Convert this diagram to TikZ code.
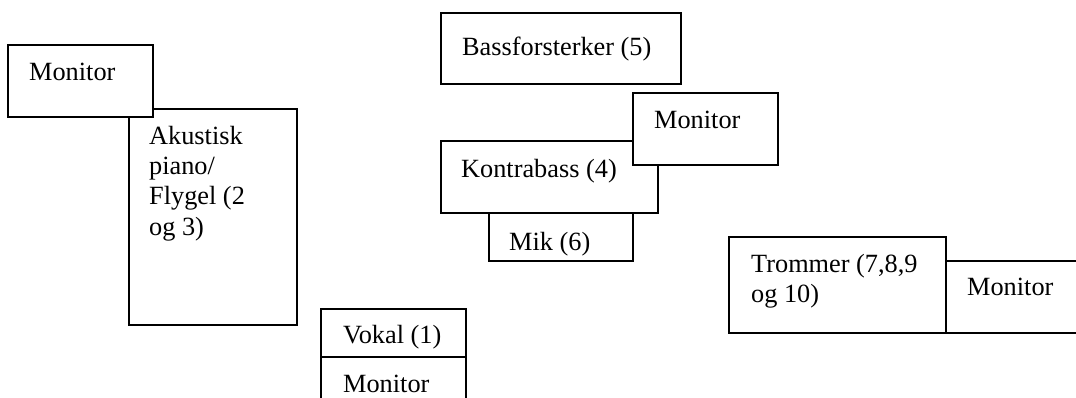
\documentclass[tikz,border=0pt]{standalone}
\usepackage{fontspec}
\setmainfont{Liberation Serif}
\usetikzlibrary{positioning}

\begin{document}
\begin{tikzpicture}[
    x=1pt, y=-1pt,
    box/.style={rectangle, draw=black, fill=white, line width=1.8pt, inner sep=0pt, outer sep=0pt, anchor=north west},
    lbl/.style={inner sep=0pt, align=left, font=\fontsize{26.3pt}{30.3pt}\selectfont}
]
\clip (0,0) rectangle (1076,397);

% piano + monitor
\node[box, minimum width=168pt, minimum height=216pt] (piano) at (129,109) {};
\node[lbl, below right=126pt and 20pt of piano.north west, anchor=base west] (pianotxt) {Akustisk\\piano/\\Flygel (2\\og 3)};
\node[box, minimum width=145pt, minimum height=72pt] (monL) at (8,45) {};
\node[lbl, below right=35pt and 21pt of monL.north west, anchor=base west] (monLtxt) {Monitor};

% bass
\node[box, minimum width=240pt, minimum height=71pt] (bass) at (441,13) {};
\node[lbl, below right=42pt and 21pt of bass.north west, anchor=base west] (basstxt) {Bassforsterker (5)};
\node[box, minimum width=217pt, minimum height=72pt] (kontra) at (441,141) {};
\node[lbl, below right=36pt and 20pt of kontra.north west, anchor=base west] (kontratxt) {Kontrabass (4)};
\node[box, minimum width=145pt, minimum height=72pt] (monM) at (633,93) {};
\node[lbl, below right=35pt and 21pt of monM.north west, anchor=base west] (monMtxt) {Monitor};
\node[box, minimum width=144pt, minimum height=48pt] (mik) at (489,213) {};
\node[lbl, below right=37pt and 20pt of mik.north west, anchor=base west] (miktxt) {Mik (6)};

% vokal
\node[box, minimum width=145pt, minimum height=48pt] (vokal) at (321,309) {};
\node[lbl, below right=34pt and 22pt of vokal.north west, anchor=base west] (vokaltxt) {Vokal (1)};
\node[box, minimum width=145pt, minimum height=70pt] (monV) at (321,357) {};
\node[lbl, below right=35pt and 22pt of monV.north west, anchor=base west] (monVtxt) {Monitor};

% trommer
\node[box, minimum width=217pt, minimum height=96pt] (trommer) at (729,237) {};
\node[lbl, below right=65.5pt and 22pt of trommer.north west, anchor=base west] (trommertxt) {Trommer (7,8,9\\og 10)};
\node[box, minimum width=160pt, minimum height=72pt] (monR) at (946,261) {};
\node[lbl, below right=34pt and 21pt of monR.north west, anchor=base west] (monRtxt) {Monitor};

\end{tikzpicture}
\end{document}
